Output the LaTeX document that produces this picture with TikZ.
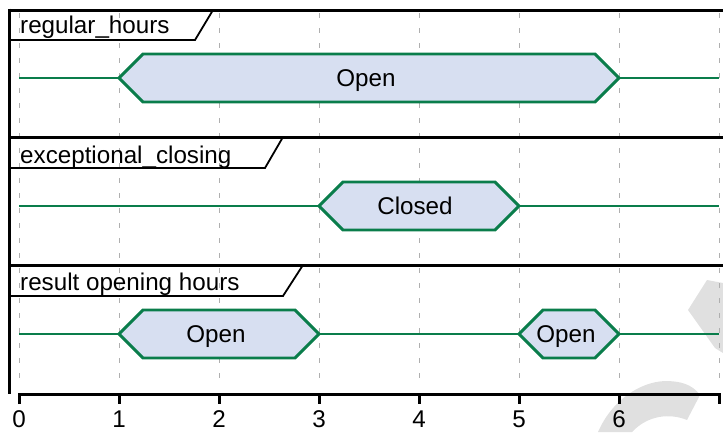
\documentclass[tikz,border=0pt]{standalone}
\usepackage{fontspec}
\setmainfont{Liberation Sans}
\definecolor{sigG}{RGB}{10,125,75}
\definecolor{hexF}{RGB}{215,223,241}
\definecolor{gridC}{RGB}{175,175,175}
\definecolor{wmC}{RGB}{224,224,224}
\begin{document}
\begin{tikzpicture}[x=1pt,y=-1pt,
  sig/.style={draw=sigG,line width=2.9pt},
  hex/.style={draw=sigG,fill=hexF,line width=2.9pt,line join=miter},
  frameline/.style={line width=3pt,black},
  lblbox/.style={line width=1.8pt,black,line join=miter},
  gridline/.style={draw=gridC,line width=1pt,dash pattern=on 5pt off 10pt},
  txt/.style={font=\fontsize{24.2}{28}\selectfont,inner sep=0pt,anchor=base},
  wm/.style={fill=wmC}]
\useasboundingbox (0,0) rectangle (723,432);
% watermark
\fill[wm] (707,280)--(723,283)--(723,353)--(715,348)--(688,310)--cycle;
\fill[wm] (598,432) .. controls (612,400) and (640,382) .. (665,381)
  .. controls (680,381) and (692,384) .. (700,395) -- (687,420)
  .. controls (670,413) and (648,415) .. (632,432) -- cycle;
% grid
\foreach \i in {0,...,7} \draw[gridline] (19+100*\i,13) -- (19+100*\i,386);
% frame
\draw[frameline] (9,10) -- (723,10);
\draw[frameline] (9,137) -- (723,137);
\draw[frameline] (9,265) -- (723,265);
\draw[frameline] (9,8.5) -- (9,394);
% label boxes
\draw[lblbox] (213,10) -- (195,40) -- (9,40);
\draw[lblbox] (283,137) -- (265,168) -- (9,168);
\draw[lblbox] (303,265) -- (283,296) -- (9,296);
\node[txt,anchor=base west] (l1) at (20,33) {regular\_hours};
\node[txt,anchor=base west] (l2) at (20,163) {exceptional\_closing};
\node[txt,anchor=base west] (l3) at (20,290) {result opening hours};
% row 1
\draw[sig] (19,78) -- (119,78);
\draw[hex] (119,78) -- (143,54) -- (595,54) -- (619,78) -- (595,102) -- (143,102) -- cycle;
\draw[sig] (619,78) -- (719,78);
\node[txt] (s1) at (366,86) {Open};
% row 2
\draw[sig] (19,206) -- (319,206);
\draw[hex] (319,206) -- (343,182) -- (495,182) -- (519,206) -- (495,230) -- (343,230) -- cycle;
\draw[sig] (519,206) -- (719,206);
\node[txt] (s2) at (415,214) {Closed};
% row 3
\draw[sig] (19,334) -- (119,334);
\draw[hex] (119,334) -- (143,310) -- (295,310) -- (319,334) -- (295,358) -- (143,358) -- cycle;
\draw[sig] (319,334) -- (519,334);
\draw[hex] (519,334) -- (543,310) -- (595,310) -- (619,334) -- (595,358) -- (543,358) -- cycle;
\draw[sig] (619,334) -- (719,334);
\node[txt] (s3) at (216,342) {Open};
\node[txt] (s4) at (566,342) {Open};
% axis
\draw[frameline,line join=miter] (19,404) -- (19,394) -- (719,394) -- (719,404);
\foreach \i in {1,...,6} \draw[frameline] (19+100*\i,394) -- (19+100*\i,404);
\foreach \i in {0,...,6} \node[txt] (t\i) at (19+100*\i,427) {\i};
\end{tikzpicture}
\end{document}
